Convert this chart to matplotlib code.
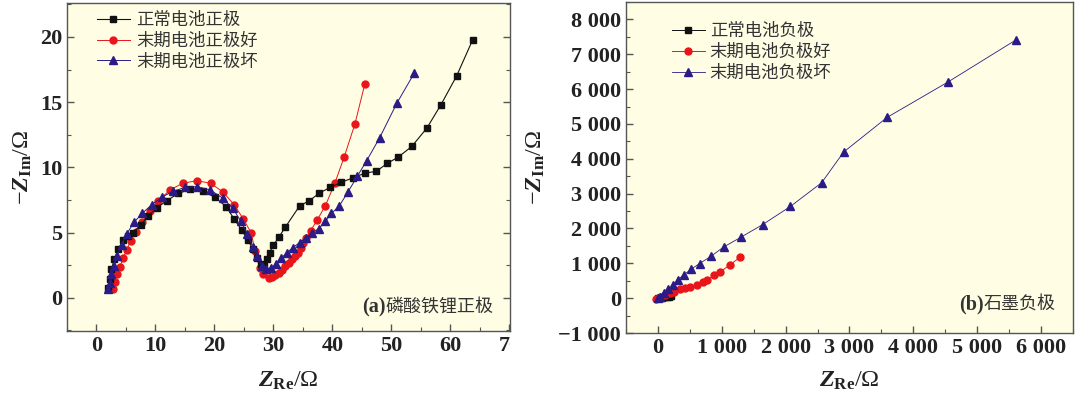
import numpy as np
import matplotlib
matplotlib.use("Agg")
import matplotlib.pyplot as plt
from matplotlib.font_manager import FontProperties
from matplotlib.ticker import MultipleLocator, FixedLocator
from matplotlib.transforms import Bbox, TransformedBbox

plt.rcParams['mathtext.fontset'] = 'custom'
plt.rcParams['mathtext.rm'] = 'Liberation Serif'
plt.rcParams['mathtext.it'] = 'Liberation Serif:italic:bold'
plt.rcParams['mathtext.bf'] = 'Liberation Serif:bold'

# (a) cathode, LiFePO4
a_labels = ["正常电池正极", "末期电池正极好", "末期电池正极坏"]
a_normal_x = [1.98, 2.26, 2.55, 3.0, 3.67, 4.52, 5.3, 6.2, 7.53, 8.78, 10.2, 11.9, 13.9, 15.9,
              18.1, 20.1, 22.0, 23.35, 24.65, 25.7, 26.5, 27.2, 27.9, 28.45, 28.9, 29.35, 30.0,
              30.95, 32.0, 34.45, 36.1, 37.7, 39.6, 41.5, 43.5, 45.5, 47.45, 49.3, 51.2, 53.45,
              56.0, 58.4, 61.05, 63.8]
a_normal_y = [0.72, 1.41, 2.18, 2.95, 3.72, 4.41, 4.75, 5.0, 5.59, 6.28, 6.87, 7.44, 8.0, 8.33,
              8.15, 7.7, 6.98, 6.03, 5.18, 4.41, 3.72, 3.08, 2.57, 2.44, 2.97, 3.46, 4.03,
              4.67, 5.4, 7.05, 7.44, 8.0, 8.46, 8.85, 9.2, 9.55, 9.7, 10.3, 10.8, 11.6,
              13.0, 14.8, 17.0, 19.8]
a_good_x = [2.72, 3.1, 3.5, 3.96, 4.53, 5.1, 5.8, 6.7, 7.8, 9.06, 10.5, 12.5, 14.6, 17.0, 19.4,
            21.5, 23.35, 24.9, 26.2, 26.9, 27.65, 28.3, 29.2, 29.7, 30.3, 30.9, 31.5, 32.0,
            32.6, 33.2, 33.7, 34.1, 34.6, 35.0, 35.6, 36.3, 37.4, 38.8, 40.4, 42.0, 43.8, 45.5]
a_good_y = [0.65, 1.23, 1.8, 2.36, 3.03, 3.64, 4.36, 5.05, 5.82, 6.62, 7.44, 8.28, 8.77, 8.98, 8.77,
            8.08, 7.13, 6.03, 5.0, 3.6, 2.3, 1.8, 1.49, 1.58, 1.75, 1.92, 2.15, 2.44,
            2.7, 2.95, 3.2, 3.46, 3.85, 4.23, 4.6, 5.13, 5.95, 7.05, 8.77, 10.8, 13.3, 16.4]
a_bad_x = [1.98, 2.26, 2.55, 2.94, 3.5, 4.25, 5.1, 6.34, 7.8, 9.35, 11.05, 12.9, 15.0, 17.1,
           19.3, 21.4, 23.1, 24.5, 25.6, 26.5, 27.3, 28.05, 28.8, 29.6, 30.5, 31.3, 32.3, 33.3,
           34.45, 35.6, 36.6, 37.7, 38.8, 39.8, 41.1, 42.6, 44.2, 45.8, 48.0, 50.9, 53.85]
a_bad_y = [0.65, 1.15, 1.8, 2.44, 3.2, 4.05, 4.87, 5.77, 6.49, 7.13, 7.7, 8.15, 8.46, 8.52,
           8.26, 7.64, 6.87, 5.85, 4.87, 3.9, 3.2, 2.44, 2.18, 2.3, 2.57, 3.03, 3.46, 3.85,
           4.23, 4.6, 5.0, 5.3, 5.85, 6.46, 7.0, 8.08, 9.3, 10.5, 12.26, 14.9, 17.2]
a_xticks = [0, 10, 20, 30, 40, 50, 60, 70]
a_yticks = [0, 5, 10, 15, 20]

# (b) anode, graphite
b_labels = ["正常电池负极", "末期电池负极好", "末期电池负极坏"]
b_normal_x = [0, 30, 60, 100, 140, 180, 210]
b_normal_y = [0, 5, 12, 20, 30, 45, 60]
b_good_x = [-27, 36, 114, 182, 245, 339, 428, 506, 611, 705, 768, 882, 977, 1122, 1290]
b_good_y = [-20, 28, 94, 159, 188, 256, 290, 330, 386, 463, 520, 653, 756, 946, 1182]
b_bad_x = [0, 36, 99, 166, 235, 307, 401, 517, 652, 831, 1028, 1301, 1640, 2074, 2564,
           2909, 3589, 4539, 5600]
b_bad_y = [0, 45, 142, 256, 378, 520, 662, 824, 994, 1202, 1466, 1750, 2111, 2631, 3313,
           4194, 5188, 6200, 7404]
b_xticks = [0, 1000, 2000, 3000, 4000, 5000, 6000]
b_xticklabels = ["0", "1 000", "2 000", "3 000", "4 000", "5 000", "6 000"]
b_yticks = [-1000, 0, 1000, 2000, 3000, 4000, 5000, 6000, 7000, 8000]
b_yticklabels = ["\u22121 000", "0", "1 000", "2 000", "3 000", "4 000", "5 000",
                 "6 000", "7 000", "8 000"]

bg = "#fffde4"
spine_c = "#555555"
black = "#111111"
red = "#e8161b"
blue = "#2b1b86"
txt_c = "#333333"
cjk = ["Noto Sans CJK SC", "DejaVu Sans"]

fig = plt.figure(figsize=(10.8, 3.98), dpi=100)
ax1 = fig.add_axes([0.062, 0.1683, 0.4102, 0.8242])
ax2 = fig.add_axes([0.5796, 0.1633, 0.4139, 0.8317])


def style(ax):
    ax.set_facecolor(bg)
    for s in ax.spines.values():
        s.set_color(spine_c)
        s.set_linewidth(1.0)
    ax.tick_params(which="both", direction="in", colors=spine_c, top=False)
    ax.tick_params(which="major", length=5, width=1)
    ax.tick_params(which="minor", length=3, width=0.8)
    for lab in ax.get_xticklabels() + ax.get_yticklabels():
        lab.set_fontproperties(FontProperties(family="Liberation Serif", weight="bold", size=16))
        lab.set_color("#222222")


def tag(ax, letter, name, y):
    t = ax.text(0.962, y, name, transform=ax.transAxes, ha="right", va="center",
                family=cjk, fontsize=13, color=txt_c)
    ax.annotate(letter, xy=(0, 0.45), xycoords=t, ha="right", va="center",
                family="Liberation Serif", weight="bold", fontsize=14.5, color=txt_c)


# panel (a)
ax1.plot(a_good_x, a_good_y, color=red, lw=0.7, marker="o", ms=5, mec=red, zorder=2,
         label=a_labels[1])
ax1.plot(a_normal_x, a_normal_y, color=black, lw=0.8, marker="s", ms=4.5, zorder=3,
         label=a_labels[0])
ax1.plot(a_bad_x, a_bad_y, color=blue, lw=0.7, marker="^", ms=5.5, zorder=4,
         label=a_labels[2])
ax1.set_xlim(-5, 70.1)
ax1.set_ylim(-2.55, 22.6)
ax1.xaxis.set_major_locator(FixedLocator(a_xticks))
ax1.yaxis.set_major_locator(FixedLocator(a_yticks))
ax1.xaxis.set_minor_locator(MultipleLocator(5))
ax1.yaxis.set_minor_locator(MultipleLocator(2.5))
ax1.tick_params(which="both", axis="y", right=True, labelright=False)
style(ax1)
h, l = ax1.get_legend_handles_labels()
order = [1, 0, 2]
leg1 = ax1.legend([h[i] for i in order], [l[i] for i in order], loc="upper left",
                  bbox_to_anchor=(0.04, 1.012), frameon=False, handlelength=1.9,
                  handletextpad=0.35, labelspacing=0.15, borderaxespad=0.3,
                  prop=dict(family=cjk, size=12.5))
for t in leg1.get_texts():
    t.set_color(txt_c)
tag(ax1, "(a)", "磷酸铁锂正极", 0.075)
ax1.set_xlabel(r"$\mathit{Z}_{\mathbf{Re}}/\Omega$", fontsize=17.5, color="#222222",
               labelpad=9)
ax1.set_ylabel(r"$-\mathit{Z}_{\mathbf{Im}}/\Omega$", fontsize=17.5, color="#222222",
               labelpad=4)

# panel (b)
ax2.plot(b_normal_x, b_normal_y, color=black, lw=0.7, marker="s", ms=4.5, zorder=2,
         label=b_labels[0])
ax2.plot(b_good_x, b_good_y, color=red, lw=0.7, marker="o", ms=5, mec=red, zorder=3,
         label=b_labels[1])
ax2.plot(b_bad_x, b_bad_y, color=blue, lw=0.6, marker="^", ms=5.5, zorder=4,
         label=b_labels[2])
ax2.set_xlim(-500, 6500)
ax2.set_ylim(-1000, 8500)
ax2.xaxis.set_major_locator(FixedLocator(b_xticks))
ax2.set_xticklabels(b_xticklabels)
ax2.yaxis.set_major_locator(FixedLocator(b_yticks))
ax2.set_yticklabels(b_yticklabels)
ax2.xaxis.set_minor_locator(MultipleLocator(500))
ax2.yaxis.set_minor_locator(MultipleLocator(500))
style(ax2)
leg2 = ax2.legend(loc="upper left", bbox_to_anchor=(0.075, 0.975), frameon=False,
                  handlelength=1.9, handletextpad=0.3, labelspacing=0.15,
                  borderaxespad=0.3, prop=dict(family=cjk, size=12.5))
for t in leg2.get_texts():
    t.set_color(txt_c)
tag(ax2, "(b)", "石墨负极", 0.09)
ax2.set_xlabel(r"$\mathit{Z}_{\mathbf{Re}}/\Omega$", fontsize=17.5, color="#222222",
               labelpad=7)
ax2.set_ylabel(r"$-\mathit{Z}_{\mathbf{Im}}/\Omega$", fontsize=17.5, color="#222222",
               labelpad=8)

# the "70" label of panel (a) is cut at the panel's right edge
clip = TransformedBbox(Bbox([[0, 0], [0.4722, 1]]), fig.transFigure)
for tick in ax1.xaxis.get_major_ticks():
    tick.label1.set_clip_on(True)
    tick.label1.set_clip_box(clip)

fig.savefig("out.png", dpi=100, facecolor="white")
